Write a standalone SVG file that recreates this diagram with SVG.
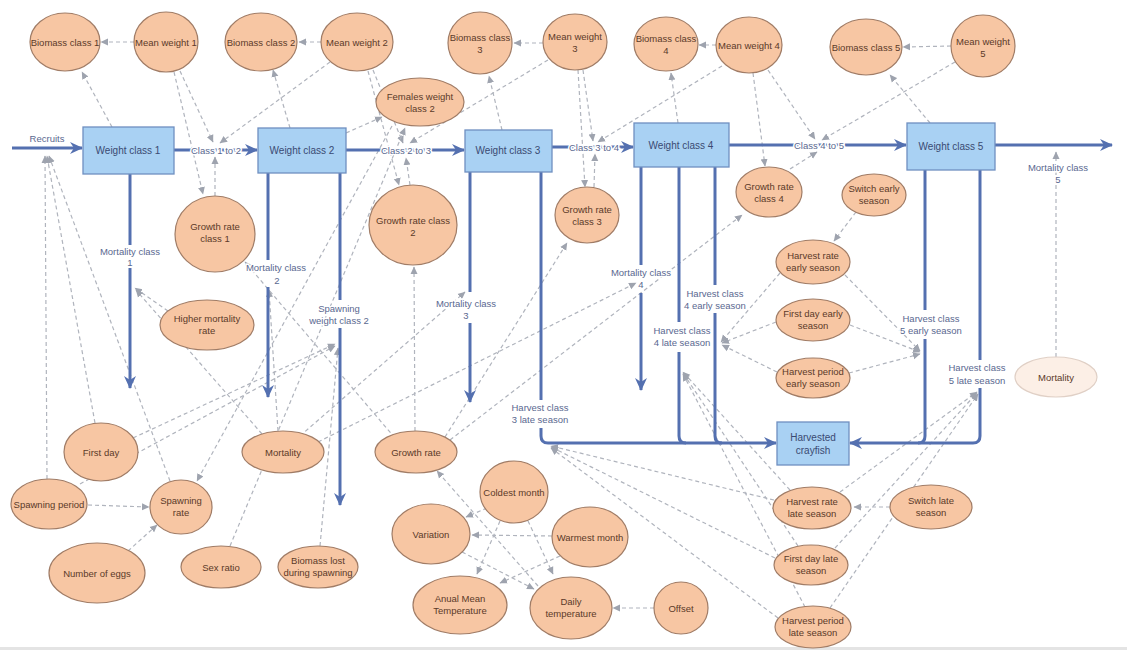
<svg xmlns="http://www.w3.org/2000/svg" width="1127" height="650" viewBox="0 0 1127 650">
<defs>
<marker id="fa" markerUnits="userSpaceOnUse" markerWidth="14" markerHeight="14" refX="12" refY="7" orient="auto"><path d="M0,1 L13,7 L0,13 L4,7 Z" fill="#5470b0"/></marker>
<marker id="ga" markerUnits="userSpaceOnUse" markerWidth="8" markerHeight="8" refX="7" refY="4" orient="auto"><path d="M0,0.5 L7.5,4 L0,7.5 Z" fill="#9ea3ae"/></marker>
<style>
.nd ellipse{fill:#f7c6a3;stroke:#a07c66;stroke-width:1.2}
.nd text{font-family:"Liberation Sans",Arial,sans-serif;font-size:9.5px;fill:#5b3a29;text-anchor:middle}
.bx rect{fill:#a9d1f3;stroke:#6f8fc0;stroke-width:1.3}
.bx text{font-family:"Liberation Sans",Arial,sans-serif;font-size:10px;fill:#3a4a72;text-anchor:middle}
.fl{fill:none;stroke:#5470b0;stroke-width:3}
.fa{marker-end:url(#fa)}
.ft{font-family:"Liberation Sans",Arial,sans-serif;font-size:9.5px;fill:#5a6890;text-anchor:middle;stroke:#fff;stroke-width:3px;paint-order:stroke}
.cn line{stroke:#b0b4bd;stroke-width:1.2;stroke-dasharray:4 3;marker-end:url(#ga)}
</style>
</defs>
<rect width="1127" height="650" fill="#fff"/>
<rect y="647" width="1127" height="3" fill="#e4e4e4"/>

<g id="connectors" class="cn">
<line x1="134" y1="42" x2="101" y2="42"/>
<line x1="112" y1="127" x2="82" y2="72"/>
<line x1="174" y1="72" x2="203" y2="194"/>
<line x1="180" y1="71" x2="213" y2="142"/>
<line x1="215" y1="196" x2="215" y2="157"/>
<line x1="330" y1="62" x2="220" y2="143"/>
<line x1="290" y1="128" x2="273" y2="70"/>
<line x1="321" y1="42" x2="299" y2="42"/>
<line x1="368" y1="71" x2="399" y2="185"/>
<line x1="373" y1="70" x2="403" y2="143"/>
<line x1="346" y1="133" x2="382" y2="117"/>
<line x1="410" y1="185" x2="406" y2="158"/>
<line x1="548" y1="60" x2="410" y2="143"/>
<line x1="502" y1="130" x2="489" y2="76"/>
<line x1="543" y1="43" x2="514" y2="43"/>
<line x1="578" y1="70" x2="585" y2="187"/>
<line x1="583" y1="70" x2="593" y2="141"/>
<line x1="594" y1="187" x2="595" y2="154"/>
<line x1="722" y1="66" x2="598" y2="142"/>
<line x1="678" y1="123" x2="671" y2="73"/>
<line x1="716" y1="45" x2="699" y2="45"/>
<line x1="753" y1="73" x2="765" y2="166"/>
<line x1="768" y1="70" x2="815" y2="139"/>
<line x1="790" y1="169" x2="817" y2="152"/>
<line x1="955" y1="62" x2="822" y2="140"/>
<line x1="930" y1="123" x2="890" y2="75"/>
<line x1="951" y1="46" x2="903" y2="47"/>
<line x1="47" y1="479" x2="45" y2="156"/>
<line x1="95" y1="423" x2="47" y2="156"/>
<line x1="170" y1="481" x2="49" y2="156"/>
<line x1="168" y1="311" x2="135" y2="288"/>
<line x1="262" y1="434" x2="136" y2="290"/>
<line x1="278" y1="431" x2="269" y2="290"/>
<line x1="300" y1="436" x2="465" y2="292"/>
<line x1="318" y1="442" x2="636" y2="283"/>
<line x1="395" y1="438" x2="245" y2="262"/>
<line x1="415" y1="431" x2="414" y2="267"/>
<line x1="445" y1="437" x2="567" y2="243"/>
<line x1="450" y1="440" x2="742" y2="215"/>
<line x1="133" y1="438" x2="335" y2="344"/>
<line x1="80" y1="484" x2="335" y2="346"/>
<line x1="88" y1="505" x2="149" y2="507"/>
<line x1="128" y1="551" x2="157" y2="525"/>
<line x1="392" y1="126" x2="197" y2="481"/>
<line x1="230" y1="546" x2="405" y2="128"/>
<line x1="320" y1="546" x2="338" y2="348"/>
<line x1="654" y1="608" x2="613" y2="608"/>
<line x1="552" y1="536" x2="472" y2="535"/>
<line x1="487" y1="508" x2="466" y2="517"/>
<line x1="500" y1="521" x2="477" y2="574"/>
<line x1="560" y1="556" x2="500" y2="583"/>
<line x1="528" y1="521" x2="553" y2="574"/>
<line x1="462" y1="552" x2="534" y2="589"/>
<line x1="538" y1="586" x2="437" y2="471"/>
<line x1="856" y1="212" x2="834" y2="241"/>
<line x1="780" y1="273" x2="721" y2="342"/>
<line x1="776" y1="322" x2="722" y2="343"/>
<line x1="777" y1="372" x2="722" y2="345"/>
<line x1="845" y1="275" x2="920" y2="351"/>
<line x1="850" y1="325" x2="920" y2="352"/>
<line x1="849" y1="373" x2="920" y2="354"/>
<line x1="774" y1="500" x2="551" y2="446"/>
<line x1="775" y1="558" x2="551" y2="447"/>
<line x1="778" y1="618" x2="551" y2="448"/>
<line x1="790" y1="490" x2="683" y2="372"/>
<line x1="798" y1="546" x2="683" y2="373"/>
<line x1="805" y1="607" x2="683" y2="374"/>
<line x1="840" y1="492" x2="977" y2="392"/>
<line x1="835" y1="548" x2="977" y2="393"/>
<line x1="830" y1="608" x2="978" y2="394"/>
<line x1="890" y1="507" x2="854" y2="507"/>
<line x1="1056" y1="357" x2="1056" y2="152"/>
</g>

<g id="flows">
<path class="fl fa" d="M12,148 H82"/>
<path class="fl fa" d="M174,150 H257"/>
<path class="fl fa" d="M346,150 H464"/>
<path class="fl fa" d="M552,147 H633"/>
<path class="fl fa" d="M729,145 H906"/>
<path class="fl fa" d="M995,145 H1112"/>
<path class="fl" d="M130,174 V245"/><path class="fl fa" d="M130,268 V388"/>
<path class="fl" d="M268,173 V260"/><path class="fl fa" d="M268,287 V397"/>
<path class="fl" d="M340,173 V300"/><path class="fl fa" d="M340,328 V505"/>
<path class="fl" d="M470,172 V292"/><path class="fl fa" d="M470,323 V402"/>
<path class="fl" d="M541,172 V400"/><path class="fl fa" d="M541,428 V436 Q541,443 548,443 H776"/>
<path class="fl" d="M641,167 V265"/><path class="fl fa" d="M641,293 V390"/>
<path class="fl" d="M679,167 V322"/><path class="fl" d="M679,352 V436 Q679,443 686,443"/>
<path class="fl" d="M715,167 V285"/><path class="fl" d="M715,313 V436 Q715,443 722,443"/>
<path class="fl" d="M925,170 V310"/><path class="fl" d="M925,339 V436 Q925,443 918,443"/>
<path class="fl" d="M980,170 V360"/><path class="fl fa" d="M980,388 V436 Q980,443 973,443 H850"/>
<text class="ft" x="47" y="142">Recruits</text>
<text class="ft" x="216" y="154">Class 1 to 2</text>
<text class="ft" x="406" y="154">Class 2 to 3</text>
<text class="ft" x="594" y="151">Class 3 to 4</text>
<text class="ft" x="819" y="149">Class 4 to 5</text>
<text class="ft" x="130" y="255">Mortality class</text><text class="ft" x="130" y="266">1</text>
<text class="ft" x="276" y="271">Mortality class</text><text class="ft" x="277" y="284">2</text>
<text class="ft" x="339" y="312">Spawning</text><text class="ft" x="339" y="324">weight class 2</text>
<text class="ft" x="466" y="307">Mortality class</text><text class="ft" x="466" y="319">3</text>
<text class="ft" x="540" y="411">Harvest class</text><text class="ft" x="540" y="423">3 late season</text>
<text class="ft" x="641" y="276">Mortality class</text><text class="ft" x="641" y="288">4</text>
<text class="ft" x="715" y="297">Harvest class</text><text class="ft" x="715" y="309">4 early season</text>
<text class="ft" x="682" y="334">Harvest class</text><text class="ft" x="682" y="346">4 late season</text>
<text class="ft" x="931" y="322">Harvest class</text><text class="ft" x="931" y="334">5 early season</text>
<text class="ft" x="977" y="371">Harvest class</text><text class="ft" x="977" y="384">5 late season</text>
<text class="ft" x="1058" y="171">Mortality class</text><text class="ft" x="1058" y="183">5</text>
</g>

<g id="weight-class-1" class="bx"><rect x="83" y="127" width="91" height="47"/><text x="128" y="154">Weight class 1</text></g>
<g id="weight-class-2" class="bx"><rect x="258" y="128" width="88" height="45"/><text x="302" y="154">Weight class 2</text></g>
<g id="weight-class-3" class="bx"><rect x="465" y="130" width="87" height="42"/><text x="508" y="154">Weight class 3</text></g>
<g id="weight-class-4" class="bx"><rect x="634" y="123" width="95" height="44"/><text x="681" y="149">Weight class 4</text></g>
<g id="weight-class-5" class="bx"><rect x="907" y="123" width="88" height="47"/><text x="951" y="150">Weight class 5</text></g>
<g id="harvested-crayfish" class="bx"><rect x="777" y="422" width="72" height="43"/><text x="813" y="441">Harvested</text><text x="813" y="454">crayfish</text></g>

<g id="biomass-class-1" class="nd"><ellipse cx="65" cy="42" rx="35" ry="29"/><text x="65" y="46">Biomass class 1</text></g>
<g id="mean-weight-1" class="nd"><ellipse cx="166" cy="42" rx="32" ry="30"/><text x="166" y="46">Mean weight 1</text></g>
<g id="biomass-class-2" class="nd"><ellipse cx="261" cy="42" rx="36" ry="29"/><text x="261" y="46">Biomass class 2</text></g>
<g id="mean-weight-2" class="nd"><ellipse cx="357" cy="42" rx="36" ry="29"/><text x="357" y="46">Mean weight 2</text></g>
<g id="females-weight-class-2" class="nd"><ellipse cx="420" cy="102" rx="44" ry="24"/><text x="420" y="100">Females weight</text><text x="420" y="112">class 2</text></g>
<g id="biomass-class-3" class="nd"><ellipse cx="480" cy="43" rx="32" ry="31"/><text x="480" y="41">Biomass class</text><text x="480" y="53">3</text></g>
<g id="mean-weight-3" class="nd"><ellipse cx="575" cy="42" rx="32" ry="28"/><text x="575" y="40">Mean weight</text><text x="575" y="52">3</text></g>
<g id="biomass-class-4" class="nd"><ellipse cx="666" cy="44" rx="32" ry="27"/><text x="666" y="42">Biomass class</text><text x="666" y="54">4</text></g>
<g id="mean-weight-4" class="nd"><ellipse cx="749" cy="45" rx="33" ry="28"/><text x="749" y="49">Mean weight 4</text></g>
<g id="biomass-class-5" class="nd"><ellipse cx="866" cy="47" rx="36" ry="28"/><text x="866" y="51">Biomass class 5</text></g>
<g id="mean-weight-5" class="nd"><ellipse cx="983" cy="46" rx="32" ry="31"/><text x="983" y="45">Mean weight</text><text x="983" y="57">5</text></g>
<g id="growth-rate-class-1" class="nd"><ellipse cx="215" cy="234" rx="40" ry="38"/><text x="215" y="230">Growth rate</text><text x="215" y="242">class 1</text></g>
<g id="growth-rate-class-2" class="nd"><ellipse cx="413" cy="225" rx="44" ry="40"/><text x="413" y="224">Growth rate class</text><text x="413" y="236">2</text></g>
<g id="growth-rate-class-3" class="nd"><ellipse cx="587" cy="215" rx="32" ry="28"/><text x="587" y="213">Growth rate</text><text x="587" y="225">class 3</text></g>
<g id="growth-rate-class-4" class="nd"><ellipse cx="769" cy="192" rx="33" ry="25"/><text x="769" y="190">Growth rate</text><text x="769" y="202">class 4</text></g>
<g id="switch-early-season" class="nd"><ellipse cx="874" cy="195" rx="32" ry="21"/><text x="874" y="192">Switch early</text><text x="874" y="204">season</text></g>
<g id="harvest-rate-early-season" class="nd"><ellipse cx="813" cy="262" rx="37" ry="22"/><text x="813" y="259">Harvest rate</text><text x="813" y="271">early season</text></g>
<g id="first-day-early-season" class="nd"><ellipse cx="813" cy="320" rx="37" ry="21"/><text x="813" y="317">First day early</text><text x="813" y="329">season</text></g>
<g id="harvest-period-early-season" class="nd"><ellipse cx="813" cy="378" rx="37" ry="20"/><text x="813" y="375">Harvest period</text><text x="813" y="387">early season</text></g>
<g id="higher-mortality-rate" class="nd"><ellipse cx="207" cy="325" rx="47" ry="25"/><text x="207" y="322">Higher mortality</text><text x="207" y="334">rate</text></g>
<g id="mortality-right" class="nd"><ellipse cx="1056" cy="377" rx="41" ry="20" style="fill:#fcefe6;stroke:#e0d0c6"/><text x="1056" y="381">Mortality</text></g>
<g id="first-day" class="nd"><ellipse cx="101" cy="452" rx="37" ry="29"/><text x="101" y="456">First day</text></g>
<g id="spawning-period" class="nd"><ellipse cx="49" cy="504" rx="38" ry="25"/><text x="49" y="508">Spawning period</text></g>
<g id="spawning-rate" class="nd"><ellipse cx="181" cy="507" rx="31" ry="27"/><text x="181" y="504">Spawning</text><text x="181" y="516">rate</text></g>
<g id="number-of-eggs" class="nd"><ellipse cx="97" cy="573" rx="48" ry="30"/><text x="97" y="577">Number of eggs</text></g>
<g id="sex-ratio" class="nd"><ellipse cx="221" cy="567" rx="40" ry="21"/><text x="221" y="571">Sex ratio</text></g>
<g id="mortality" class="nd"><ellipse cx="283" cy="452" rx="41" ry="21"/><text x="283" y="456">Mortality</text></g>
<g id="biomass-lost-during-spawning" class="nd"><ellipse cx="318" cy="567" rx="40" ry="21"/><text x="318" y="564">Biomass lost</text><text x="318" y="576">during spawning</text></g>
<g id="growth-rate" class="nd"><ellipse cx="416" cy="452" rx="41" ry="21"/><text x="416" y="456">Growth rate</text></g>
<g id="coldest-month" class="nd"><ellipse cx="514" cy="492" rx="34" ry="31"/><text x="514" y="496">Coldest month</text></g>
<g id="variation" class="nd"><ellipse cx="431" cy="534" rx="39" ry="30"/><text x="431" y="538">Variation</text></g>
<g id="warmest-month" class="nd"><ellipse cx="590" cy="537" rx="38" ry="30"/><text x="590" y="541">Warmest month</text></g>
<g id="anual-mean-temperature" class="nd"><ellipse cx="460" cy="605" rx="47" ry="29"/><text x="460" y="602">Anual Mean</text><text x="460" y="614">Temperature</text></g>
<g id="daily-temperature" class="nd"><ellipse cx="571" cy="608" rx="41" ry="31"/><text x="571" y="605">Daily</text><text x="571" y="617">temperature</text></g>
<g id="offset" class="nd"><ellipse cx="681" cy="608" rx="27" ry="26"/><text x="681" y="612">Offset</text></g>
<g id="harvest-rate-late-season" class="nd"><ellipse cx="812" cy="508" rx="39" ry="21"/><text x="812" y="505">Harvest rate</text><text x="812" y="517">late season</text></g>
<g id="first-day-late-season" class="nd"><ellipse cx="811" cy="565" rx="37" ry="20"/><text x="811" y="562">First day late</text><text x="811" y="574">season</text></g>
<g id="harvest-period-late-season" class="nd"><ellipse cx="813" cy="627" rx="38" ry="21"/><text x="813" y="624">Harvest period</text><text x="813" y="636">late season</text></g>
<g id="switch-late-season" class="nd"><ellipse cx="931" cy="507" rx="41" ry="22"/><text x="931" y="504">Switch late</text><text x="931" y="516">season</text></g>
</svg>
